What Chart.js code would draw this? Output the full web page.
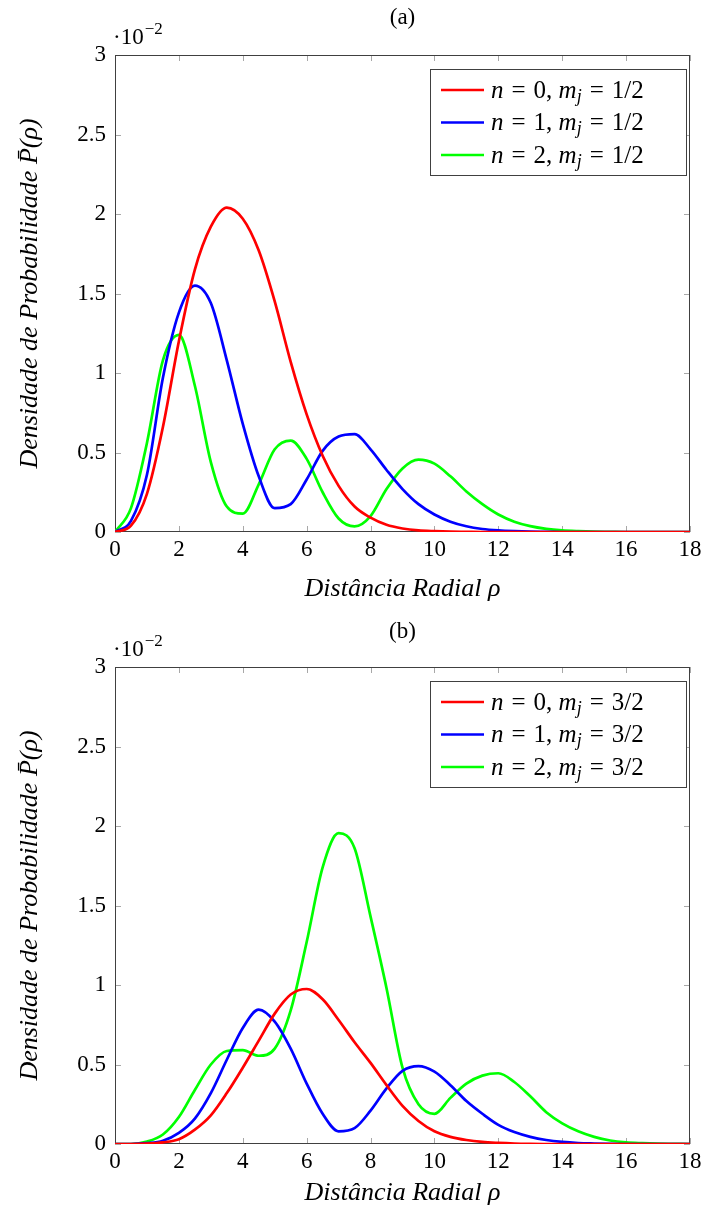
<!DOCTYPE html>
<html>
<head>
<meta charset="utf-8">
<title>Densidade de Probabilidade</title>
<script src="https://cdn.jsdelivr.net/npm/chart.js@4.4.0/dist/chart.umd.min.js"></script>
<style>
  html, body { margin: 0; padding: 0; background: #fff; }
  #wrap { position: relative; width: 704px; height: 1214px; }
  canvas { position: absolute; left: 0; }
</style>
</head>
<body>
<div id="wrap">
  <canvas id="graficoA" width="704" height="612" style="top:0"></canvas>
  <canvas id="graficoB" width="704" height="602" style="top:612px"></canvas>
</div>
<script>
// distância radial (eixo x)
const rho = [0, 0.5, 1, 1.5, 2, 2.5, 3, 3.5, 4, 4.5, 5, 5.5, 6, 6.5, 7, 7.5, 8, 8.5, 9,
  9.5, 10, 10.5, 11, 11.5, 12, 12.5, 13, 13.5, 14, 14.5, 15, 15.5, 16, 16.5, 17, 17.5, 18];

// densidades (x 10^-2), m_j = 1/2
const p0Half = [0, 0.04, 0.24, 0.66, 1.2, 1.65, 1.92, 2.04, 1.97, 1.77, 1.45, 1.07, 0.74, 0.48, 0.29, 0.16, 0.09, 0.045, 0.022,
  0.01, 0.005, 0.002, 0.001, 0, 0, 0, 0, 0, 0, 0, 0, 0, 0, 0, 0, 0, 0];
const p1Half = [0, 0.07, 0.36, 0.97, 1.38, 1.55, 1.44, 1.08, 0.68, 0.35, 0.15, 0.175, 0.33, 0.51, 0.6, 0.615, 0.52, 0.39, 0.27,
  0.175, 0.11, 0.065, 0.036, 0.019, 0.01, 0.005, 0.002, 0.001, 0, 0, 0, 0, 0, 0, 0, 0, 0];
const p2Half = [0, 0.15, 0.56, 1.08, 1.24, 0.92, 0.44, 0.16, 0.115, 0.3, 0.52, 0.575, 0.46, 0.25, 0.085, 0.035, 0.1, 0.27, 0.4,
  0.455, 0.43, 0.35, 0.255, 0.175, 0.11, 0.065, 0.037, 0.02, 0.01, 0.005, 0.002, 0.001, 0, 0, 0, 0, 0];

// densidades (x 10^-2), m_j = 3/2
const p0ThreeHalf = [0, 0, 0.002, 0.01, 0.03, 0.09, 0.18, 0.32, 0.48, 0.65, 0.82, 0.94, 0.975, 0.91, 0.78, 0.64, 0.51, 0.37, 0.24,
  0.145, 0.08, 0.045, 0.025, 0.013, 0.007, 0.003, 0.001, 0, 0, 0, 0, 0, 0, 0, 0, 0, 0];
const p1ThreeHalf = [0, 0, 0.005, 0.02, 0.07, 0.16, 0.32, 0.53, 0.73, 0.845, 0.77, 0.6, 0.38, 0.19, 0.08, 0.1, 0.21, 0.35, 0.46,
  0.49, 0.455, 0.37, 0.27, 0.19, 0.12, 0.075, 0.045, 0.025, 0.013, 0.006, 0.003, 0.001, 0, 0, 0, 0, 0];
const p2ThreeHalf = [0, 0, 0.015, 0.06, 0.17, 0.34, 0.5, 0.585, 0.59, 0.555, 0.6, 0.84, 1.27, 1.74, 1.955, 1.86, 1.43, 0.98, 0.48,
  0.25, 0.19, 0.29, 0.38, 0.43, 0.445, 0.39, 0.3, 0.2, 0.13, 0.08, 0.045, 0.022, 0.01, 0.005, 0.002, 0.001, 0];

const rhoTicks = [0, 2, 4, 6, 8, 10, 12, 14, 16, 18];
const pTicks = [0, 0.5, 1, 1.5, 2, 2.5, 3];

const legendaHalf = ['n = 0, m_j = 1/2', 'n = 1, m_j = 1/2', 'n = 2, m_j = 1/2'];
const legendaThreeHalf = ['n = 0, m_j = 3/2', 'n = 1, m_j = 3/2', 'n = 2, m_j = 3/2'];

const cores = ['#ff0000', '#0000ff', '#00ff00'];
const FONTE = '"Liberation Serif", "DejaVu Serif", serif';

// escreve texto "matemático": letras em itálico, _x vira subscrito,
// espaços viram espaços "grossos" como no modo matemático
function escreveMat(ctx, texto, x, y, tam) {
  let cx = x;
  for (let i = 0; i < texto.length; i++) {
    let ch = texto[i];
    if (ch === ' ') {
      cx += texto[i - 1] === ',' ? tam * 0.25 : tam * 0.32;
      continue;
    }
    let sub = false;
    if (ch === '_') { sub = true; ch = texto[++i]; }
    const italico = /[a-zA-Z]/.test(ch);
    const t = sub ? Math.round(tam * 0.7) : tam;
    ctx.font = (italico ? 'italic ' : '') + t + 'px ' + FONTE;
    ctx.fillText(ch, cx, sub ? y + tam * 0.25 : y);
    cx += ctx.measureText(ch).width;
  }
  return cx;
}

const moldura = {
  id: 'moldura',
  beforeDatasetsDraw(chart) {
    const {ctx, chartArea: a, scales: {x, y}} = chart;
    ctx.save();
    ctx.strokeStyle = '#a8a8a8';
    ctx.lineWidth = 1;
    ctx.beginPath();
    rhoTicks.forEach(v => {
      const px = Math.round(x.getPixelForValue(v)) + 0.5;
      ctx.moveTo(px, a.bottom); ctx.lineTo(px, a.bottom - 6);
      ctx.moveTo(px, a.top); ctx.lineTo(px, a.top + 6);
    });
    pTicks.forEach(v => {
      const py = Math.round(y.getPixelForValue(v)) + 0.5;
      ctx.moveTo(a.left, py); ctx.lineTo(a.left + 6, py);
      ctx.moveTo(a.right, py); ctx.lineTo(a.right - 6, py);
    });
    ctx.stroke();
    ctx.strokeStyle = '#404040';
    ctx.strokeRect(Math.round(a.left) + 0.5, Math.round(a.top) + 0.5,
      Math.round(a.right - a.left) - 1, Math.round(a.bottom - a.top) - 1);
    ctx.restore();
  },
  afterDatasetsDraw(chart, args, opts) {
    const {ctx, chartArea: a} = chart;
    ctx.save();

    // título do painel
    ctx.fillStyle = '#000';
    ctx.textAlign = 'center';
    ctx.textBaseline = 'middle';
    ctx.font = '23px ' + FONTE;
    ctx.fillText(opts.titulo, (a.left + a.right) / 2, opts.tituloY);

    // fator de escala ·10^-2
    ctx.textAlign = 'left';
    ctx.font = '23px ' + FONTE;
    ctx.fillText('\u00b710', a.left - 2, a.top - 17);
    const w = ctx.measureText('\u00b710').width;
    ctx.font = '17px ' + FONTE;
    ctx.fillText('\u22122', a.left - 2 + w + 1, a.top - 25);

    // legenda
    const bx = 430, by = a.top + 14, bw = 256, bh = 106;
    ctx.fillStyle = '#fff';
    ctx.fillRect(bx, by, bw, bh);
    ctx.strokeStyle = '#404040';
    ctx.lineWidth = 1;
    ctx.strokeRect(bx + 0.5, by + 0.5, bw, bh);
    chart.data.datasets.forEach((ds, i) => {
      const ly = by + 21 + i * 32.5;
      ctx.strokeStyle = ds.borderColor;
      ctx.lineWidth = 2.5;
      ctx.beginPath();
      ctx.moveTo(bx + 11, ly);
      ctx.lineTo(bx + 54, ly);
      ctx.stroke();
      ctx.fillStyle = '#000';
      ctx.textBaseline = 'middle';
      escreveMat(ctx, ds.label, bx + 61, ly + 1, 25);
    });
    ctx.restore();
  }
};

function criarGrafico(id, series, legendas, titulo, tituloY, padTituloX) {
  const canvas = document.getElementById(id);
  const altura = canvas.height;
  return new Chart(canvas, {
    type: 'line',
    data: {
      datasets: series.map((s, i) => ({
        label: legendas[i],
        data: rho.map((r, k) => ({x: r, y: s[k]})),
        borderColor: cores[i],
        borderWidth: 2.7,
        pointRadius: 0,
        cubicInterpolationMode: 'monotone',
        fill: false
      }))
    },
    options: {
      responsive: false,
      animation: false,
      devicePixelRatio: 1,
      layout: {autoPadding: false, padding: {top: 55, right: 14, bottom: 0, left: 0}},
      plugins: {
        legend: {display: false},
        tooltip: {enabled: false},
        moldura: {titulo: titulo, tituloY: tituloY}
      },
      scales: {
        x: {
          type: 'linear',
          min: 0,
          max: 18,
          afterBuildTicks: s => { s.ticks = rhoTicks.map(v => ({value: v})); },
          afterFit: s => { s.height = altura - 532; s.paddingLeft = 0; s.paddingRight = 0; },
          grid: {display: false, drawTicks: false},
          border: {display: false},
          ticks: {
            color: '#000',
            padding: 4,
            maxRotation: 0,
            font: {family: FONTE, size: 23},
            callback: v => String(v)
          },
          title: {
            display: true,
            text: 'Distância Radial ρ',
            color: '#000',
            font: {family: FONTE, size: 26, style: 'italic'},
            padding: {top: 0, bottom: padTituloX}
          }
        },
        y: {
          min: 0,
          max: 3,
          afterBuildTicks: s => { s.ticks = pTicks.map(v => ({value: v})); },
          afterFit: s => { s.width = 115; s.paddingTop = 0; s.paddingBottom = 0; },
          grid: {display: false, drawTicks: false},
          border: {display: false},
          ticks: {
            color: '#000',
            padding: 9,
            font: {family: FONTE, size: 23},
            callback: v => String(v)
          },
          title: {
            display: true,
            text: 'Densidade de Probabilidade P\u0304(ρ)',
            color: '#000',
            font: {family: FONTE, size: 26, style: 'italic'},
            padding: {top: 15, bottom: 0}
          }
        }
      }
    },
    plugins: [moldura]
  });
}

criarGrafico('graficoA', [p0Half, p1Half, p2Half], legendaHalf, '(a)', 18, 7);
criarGrafico('graficoB', [p0ThreeHalf, p1ThreeHalf, p2ThreeHalf], legendaThreeHalf, '(b)', 20, 5);
</script>
</body>
</html>
